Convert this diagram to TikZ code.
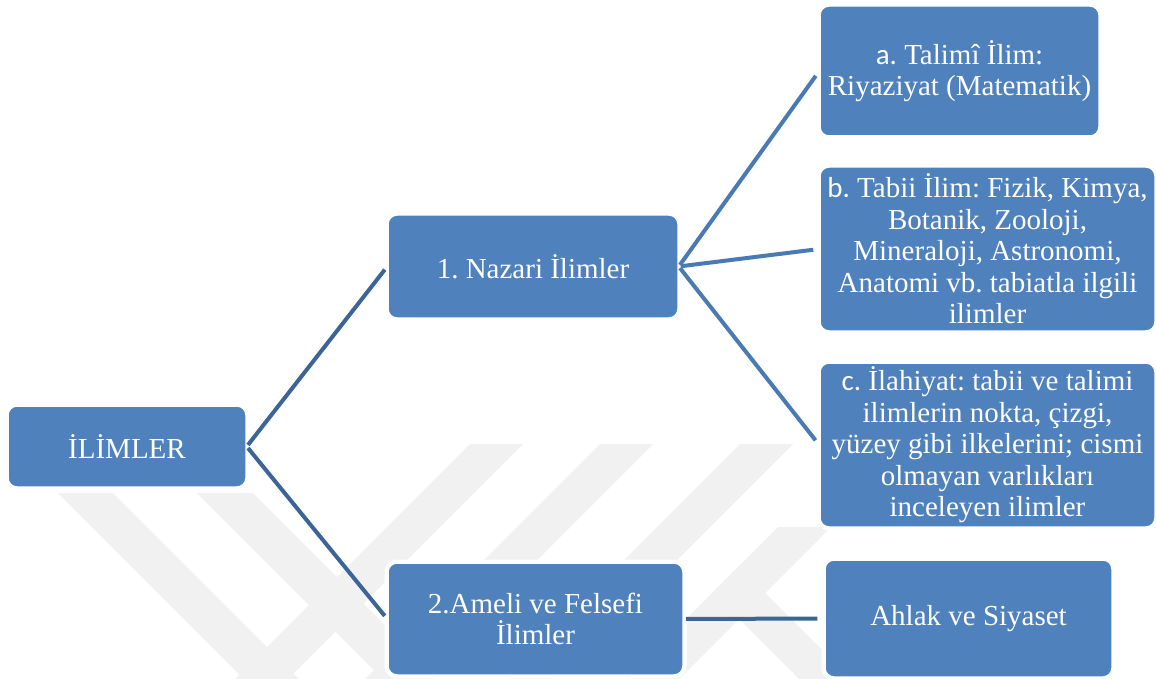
\documentclass[tikz,border=0pt]{standalone}
\usepackage{fontspec}
\setmainfont{Liberation Serif}
\newfontfamily\calfont{Carlito}
\frenchspacing
\definecolor{boxblue}{HTML}{4F81BD}
\definecolor{lineA}{HTML}{3C6496}
\definecolor{lineB}{HTML}{4A7AB4}
\definecolor{wm}{HTML}{F1F1F1}
\tikzset{
  box/.style={draw=white, line width=1.5pt, fill=boxblue, rounded corners=9pt,
    text=white, align=center, inner sep=0pt,
    font=\fontsize{29}{31.5}\selectfont\frenchspacing,
    preaction={draw=white, line width=7pt}},
  connA/.style={draw=lineA, line width=4pt, shorten <=2pt, shorten >=4pt},
  connB/.style={draw=lineB, line width=4pt, shorten <=2pt, shorten >=6pt},
  band/.style={fill=wm}
}
\begin{document}
\begin{tikzpicture}[x=1pt,y=-1pt]
\useasboundingbox (0,0) rectangle (1156,679);
\fill[white] (0,0) rectangle (1156,679);
% watermark
\begin{scope}
\clip (0,0) rectangle (1156,679);
\fill[band] (58,493) -- (113,493) -- (299,679) -- (244,679) -- cycle;
\fill[band] (197,493) -- (253,493) -- (439,679) -- (383,679) -- cycle;
\fill[band] (470,444) -- (523,444) -- (288,679) -- (235,679) -- cycle;
\fill[band] (600,444) -- (653,444) -- (418,679) -- (365,679) -- cycle;
\fill[band] (740,444) -- (793,444) -- (558,679) -- (505,679) -- cycle;
\fill[band] (778,527) -- (831,527) -- (679,679) -- (626,679) -- cycle;
\fill[band] (712.5,592.5) -- (738.5,566.5) -- (851,679) -- (799,679) -- cycle;
\end{scope}
% nodes
\node[box, minimum width=238pt, minimum height=81pt] (root) at (127,446.5) {İLİMLER};
\node[box, minimum width=290pt, minimum height=103pt] (naz) at (533,266.5) {1. Nazari İlimler};
\node[box, minimum width=295pt, minimum height=112pt] (ame) at (535.5,619) {2.Ameli ve Felsefi\\İlimler};
\node[box, minimum width=279pt, minimum height=130pt] (ta) at (959.5,71) {{\calfont a.} Talimî İlim:\\Riyaziyat (Matematik)};
\node[box, minimum width=335pt, minimum height=164pt] (tb) at (987.5,249) {{\calfont b.} Tabii İlim: Fizik, Kimya,\\Botanik, Zooloji,\\Mineraloji, Astronomi,\\Anatomi vb. tabiatla ilgili\\ilimler};
\node[box, minimum width=335pt, minimum height=164pt] (tc) at (987.5,445) {{\calfont c.} İlahiyat: tabii ve talimi\\ilimlerin nokta, çizgi,\\yüzey gibi ilkelerini; cismi\\olmayan varlıkları\\inceleyen ilimler};
\node[box, minimum width=287pt, minimum height=117pt] (ahl) at (968.5,618.5) {Ahlak ve Siyaset};
% connectors
\draw[connA] (root.east) -- (naz.west);
\draw[connA] (root.east) -- (ame.west);
\draw[connB] (naz.east) -- (ta.west);
\draw[connB] (naz.east) -- (tb.west);
\draw[connB] (naz.east) -- (tc.west);
\draw[connA, shorten >=7pt] (ame.east) -- (ahl.west);
\end{tikzpicture}
\end{document}
